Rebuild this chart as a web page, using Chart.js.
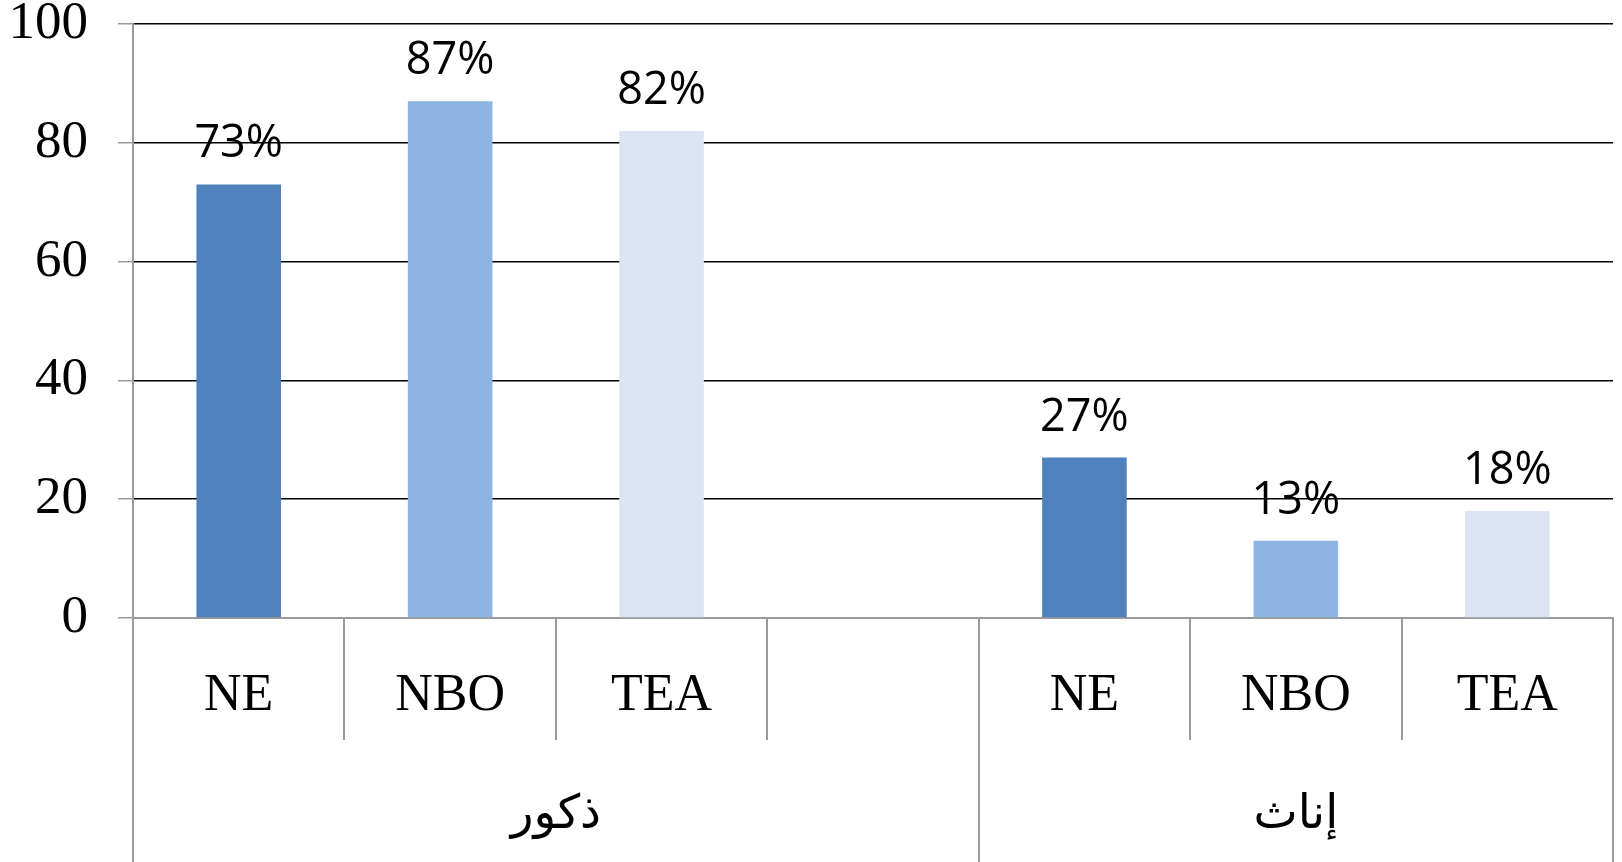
<!DOCTYPE html>
<html>
<head>
<meta charset="utf-8">
<script src="https://cdn.jsdelivr.net/npm/chart.js@4"></script>
<style>
  html, body { margin: 0; padding: 0; background: #fff; }
  #wrap { width: 1622px; height: 862px; }
</style>
</head>
<body>
<div id="wrap"><canvas id="chart" width="1622" height="862"></canvas></div>
<script>
  // categories, one empty slot separating the two groups
  const categories = ["NE", "NBO", "TEA", "", "NE", "NBO", "TEA"];
  const groups = ["ذكور", "إناث"];
  const groupSizes = [4, 3];
  const values = [73, 87, 82, null, 27, 13, 18];
  const valueLabels = ["73%", "87%", "82%", "", "27%", "13%", "18%"];
  const yTicks = [0, 20, 40, 60, 80, 100];
  const barColors = ["#4F81BD", "#8EB4E3", "#DBE5F1", "#ffffff", "#4F81BD", "#8EB4E3", "#DBE5F1"];

  const axisGrey = "#9a9a9a";

  const labelsPlugin = {
    id: "labelsPlugin",
    afterDatasetsDraw(chart) {
      const ctx = chart.ctx;
      const meta = chart.getDatasetMeta(0);
      ctx.save();
      ctx.font = "45px 'Open Sans', 'Liberation Sans', sans-serif";
      ctx.fillStyle = "#000";
      ctx.textAlign = "center";
      ctx.textBaseline = "alphabetic";
      meta.data.forEach((bar, i) => {
        if (values[i] == null) return;
        ctx.fillText(valueLabels[i], bar.x, bar.y - 27);
      });
      ctx.restore();
    },
    afterDraw(chart) {
      const ctx = chart.ctx;
      const x = chart.scales.x;
      const area = chart.chartArea;
      const step = x.getPixelForValue(1) - x.getPixelForValue(0);
      const edge = (i) => x.getPixelForValue(i) - step / 2;
      ctx.save();
      ctx.strokeStyle = axisGrey;
      ctx.lineWidth = 2;
      // inner category dividers
      let start = 0;
      groupSizes.forEach((n) => {
        for (let k = 1; k < n; k++) {
          const px = Math.round(edge(start + k));
          ctx.beginPath();
          ctx.moveTo(px, area.bottom);
          ctx.lineTo(px, 740);
          ctx.stroke();
        }
        start += n;
      });
      // group dividers, full height
      start = 0;
      const bounds = [0];
      groupSizes.forEach((n) => { start += n; bounds.push(start); });
      bounds.forEach((b) => {
        const px = Math.round(edge(b));
        ctx.beginPath();
        ctx.moveTo(px, area.bottom);
        ctx.lineTo(px, chart.height);
        ctx.stroke();
      });
      // group labels
      ctx.fillStyle = "#000";
      ctx.font = "47px 'DejaVu Sans', serif";
      ctx.textAlign = "center";
      ctx.textBaseline = "alphabetic";
      groups.forEach((g, i) => {
        const cx = (edge(bounds[i]) + edge(bounds[i + 1])) / 2;
        ctx.fillText(g, cx, 828);
      });
      ctx.restore();
    }
  };

  new Chart(document.getElementById("chart"), {
    type: "bar",
    data: {
      labels: categories,
      datasets: [{
        data: values,
        backgroundColor: barColors,
        borderWidth: 0,
        barPercentage: 0.4,
        categoryPercentage: 1.0
      }]
    },
    options: {
      responsive: false,
      animation: false,
      layout: { padding: { top: 24, right: 9, left: 0, bottom: 0 } },
      plugins: { legend: { display: false }, tooltip: { enabled: false } },
      scales: {
        x: {
          offset: true,
          grid: { display: false, drawTicks: false },
          border: { display: true, color: axisGrey, width: 2 },
          ticks: {
            color: "#000",
            padding: 47,
            maxRotation: 0,
            autoSkip: false,
            font: { family: "'Liberation Serif', 'Times New Roman', serif", size: 52 }
          },
          afterFit(s) { s.height = 244; s.paddingLeft = 0; s.paddingRight = 0; }
        },
        y: {
          min: 0,
          max: 100,
          afterBuildTicks(s) { s.ticks = yTicks.map((v) => ({ value: v })); },
          grid: {
            color: (c) => (c.tick && c.tick.value === 0 ? axisGrey : "#000"),
            tickColor: axisGrey,
            tickLength: 15,
            lineWidth: 1.5
          },
          border: { display: true, color: axisGrey, width: 2 },
          ticks: {
            color: "#000",
            padding: 30,
            font: { family: "'Liberation Serif', 'Times New Roman', serif", size: 53 }
          },
          afterFit(s) { s.width = 133; s.paddingTop = 0; s.paddingBottom = 0; }
        }
      }
    },
    plugins: [labelsPlugin]
  });
</script>
</body>
</html>
